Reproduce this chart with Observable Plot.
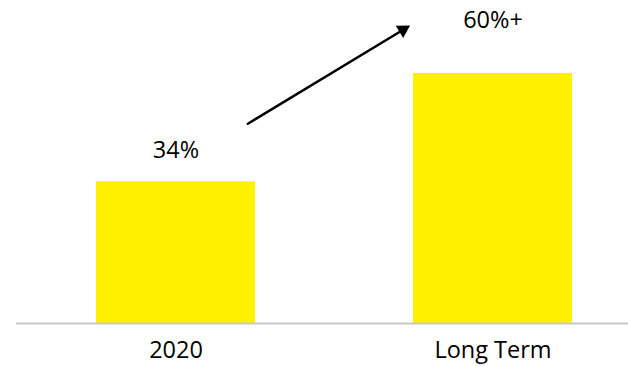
<!DOCTYPE html>
<html>
<head>
<meta charset="utf-8">
<script src="https://cdn.jsdelivr.net/npm/d3@7"></script>
<script src="https://cdn.jsdelivr.net/npm/@observablehq/plot@0.6"></script>
<style>
  html, body { margin: 0; padding: 0; background: #fff; }
</style>
</head>
<body>
<div id="chart"></div>
<script>
// Data
const categories = ["2020", "Long Term"];
const values = [34, 60];
const labels = ["34%", "60%+"];

const data = categories.map((c, i) => ({category: c, value: values[i], label: labels[i]}));

// Arrow annotation (data units)
const arrowLine = [{from: "2020", fromValue: 37.5, to: "Long Term", toValue: 83.5}];
const arrowTip = [{category: "Long Term", value: 70.5}];

const chart = Plot.plot({
  width: 628,
  height: 366,
  marginLeft: 16,
  marginRight: 0,
  marginTop: 0,
  marginBottom: 43,
  style: {fontFamily: "'Open Sans', Lato, sans-serif", fontSize: "23.5px", color: "#000", background: "#fff"},
  x: {domain: categories, range: [16.5, 650.5], paddingInner: 0.5, paddingOuter: 0.25, label: null},
  y: {domain: [0, 77.5], axis: null},
  marks: [
    Plot.barY(data, {x: "category", y: "value", fill: "#FFF100"}),
    Plot.ruleY([0], {stroke: "#c8c8c8", strokeWidth: 2}),
    Plot.axisX({tickSize: 0, tickPadding: 18, label: null, fontSize: 23.5}),
    Plot.text([data[0]], {x: "category", y: "value", text: "label", dy: -31, fontSize: 23.5, fill: "#000"}),
    Plot.text([data[1]], {x: "category", y: "value", text: "label", dy: -53, fontSize: 23.5, fill: "#000"}),
    Plot.arrow(arrowLine, {
      x1: "from", y1: "fromValue", x2: "to", y2: "toValue",
      insetStart: 84, insetEnd: 103, headLength: 0, stroke: "#000", strokeWidth: 2.5
    }),
    Plot.dot(arrowTip, {x: "category", y: "value", dx: -90, symbol: "triangle", r: 5.3, fill: "#000", stroke: "none", rotate: 58.8})
  ]
});
document.getElementById("chart").appendChild(chart);
</script>
</body>
</html>
